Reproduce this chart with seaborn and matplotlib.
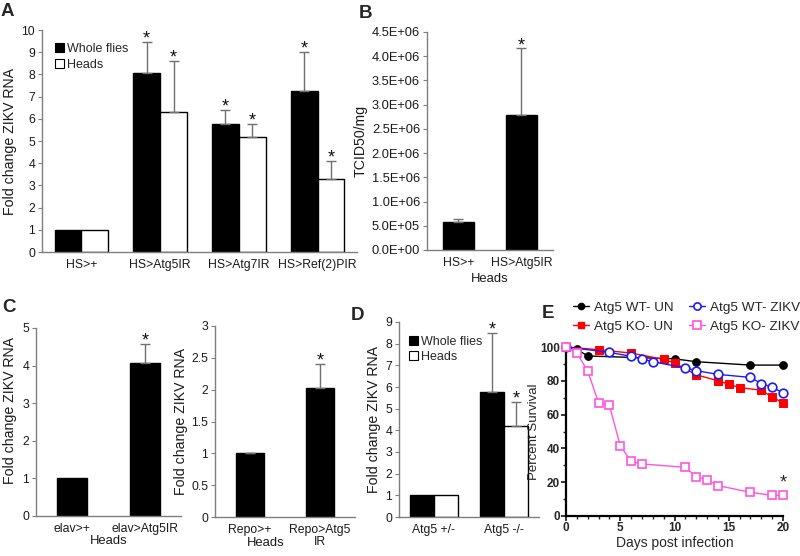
import numpy as np
import pandas as pd
import matplotlib
matplotlib.use("Agg")
import matplotlib.pyplot as plt
import seaborn as sns
from matplotlib.patches import Patch
from matplotlib.lines import Line2D
from matplotlib.ticker import FuncFormatter, MultipleLocator

# ---------------- data ----------------
A_groups = ["HS>+", "HS>Atg5IR", "HS>Atg7IR", "HS>Ref(2)PIR"]
A_whole = [1.0, 8.08, 5.76, 7.26]
A_whole_err = [0.0, 1.39, 0.63, 1.76]
A_heads = [1.0, 6.32, 5.19, 3.28]
A_heads_err = [0.0, 2.28, 0.57, 0.81]
A_star_whole = [False, True, True, True]
A_star_heads = [False, True, True, True]

B_groups = ["HS>+", "HS>Atg5IR"]
B_vals = [5.8e5, 2.79e6]
B_err = [0.5e5, 1.37e6]
B_star = [False, True]

C1_groups = ["elav>+", "elav>Atg5IR"]
C1_vals = [1.0, 4.08]
C1_err = [0.0, 0.5]
C1_star = [False, True]

C2_groups = ["Repo>+", "Repo>Atg5\nIR"]
C2_vals = [1.0, 2.03]
C2_err = [0.005, 0.37]
C2_star = [False, True]

D_groups = ["Atg5 +/-", "Atg5 -/-"]
D_whole = [1.0, 5.76]
D_whole_err = [0.0, 2.72]
D_heads = [1.0, 4.19]
D_heads_err = [0.0, 1.11]
D_star_whole = [False, True]
D_star_heads = [False, True]

E_wt_un_day = [0, 1, 2, 10, 12, 17, 20]
E_wt_un_val = [100, 98.6, 94.7, 93.0, 91.3, 89.3, 89.3]
E_ko_un_day = [0, 3, 6, 9, 10, 12, 14, 15, 16, 18, 19, 20]
E_ko_un_val = [100, 98.4, 96.4, 92.7, 90.5, 83.6, 80.0, 78.0, 76.0, 74.4, 70.4, 66.9]
E_wt_zk_day = [0, 4, 6, 7, 8, 11, 12, 14, 17, 18, 19, 20]
E_wt_zk_val = [100, 96.8, 94.5, 92.9, 91.3, 87.6, 86.0, 83.8, 82.0, 78.3, 76.3, 72.8]
E_ko_zk_day = [0, 1, 2, 3, 4, 5, 6, 7, 11, 12, 13, 14, 17, 19, 20]
E_ko_zk_val = [100, 96.4, 85.8, 67.0, 65.5, 41.6, 32.3, 30.8, 28.8, 23.3, 21.5, 18.0, 14.0, 12.2, 12.2]

# ---------------- style ----------------
sns.set_theme(style="ticks")
plt.rcParams['font.family'] = ['Liberation Sans', 'DejaVu Sans']
plt.rcParams['axes.linewidth'] = 1.0

W, H = 800, 556
fig = plt.figure(figsize=(8, 5.56), dpi=100)

def px_axes(l, r, t, b):
    return fig.add_axes([l / W, 1 - b / H, (r - l) / W, (b - t) / H])

SPINE = "#7f7f7f"
ERRC = "#707070"
TFS = 8.8
TXT = "#1a1a1a"
YLFS = 10.2

def style_bar_axes(ax):
    for s in ["top", "right"]:
        ax.spines[s].set_visible(False)
    for s in ["left", "bottom"]:
        ax.spines[s].set_color(SPINE)
        ax.spines[s].set_linewidth(1.0)
    ax.tick_params(axis="y", direction="out", length=3, width=0.8, color=SPINE,
                   labelsize=TFS, pad=2, labelcolor=TXT)
    ax.tick_params(axis="x", length=0, labelsize=TFS, pad=5, labelcolor=TXT)
    ax.set_xlabel("")
    ax.set_ylabel("")

def add_err(ax, errs, stars, starsize=13):
    patches = sorted(ax.patches, key=lambda p: p.get_x())
    for p, e, s in zip(patches, errs, stars):
        x = p.get_x() + p.get_width() / 2
        h = p.get_height()
        if e > 0:
            ax.errorbar([x], [h], yerr=[[0], [e]], fmt="none", ecolor=ERRC,
                        elinewidth=1.0, capsize=3.5, capthick=1.0, zorder=3)
        if s:
            ax.annotate("*", (x, h + e), xytext=(0, -4), textcoords="offset points",
                        ha="center", va="bottom", fontsize=starsize, color="#111111")

def grouped_df(groups, whole, heads):
    return pd.DataFrame({
        "group": groups * 2,
        "value": list(whole) + list(heads),
        "type": ["Whole flies"] * len(groups) + ["Heads"] * len(groups),
    })

pal = {"Whole flies": "black", "Heads": "white"}

def interleave(a, b):
    out = []
    for x, y in zip(a, b):
        out += [x, y]
    return out

leg_handles = [Patch(facecolor="black", edgecolor="black", linewidth=0.8),
               Patch(facecolor="white", edgecolor="black", linewidth=0.8)]

# ---------------- Panel A ----------------
axA = px_axes(42, 357, 30, 252)
dfA = grouped_df(A_groups, A_whole, A_heads)
sns.barplot(data=dfA, x="group", y="value", hue="type", palette=pal, width=0.68,
            edgecolor="black", linewidth=1.0, errorbar=None, legend=False, ax=axA, zorder=2)
axA.set_ylim(0, 10)
axA.set_yticks(range(0, 11))
axA.set_xlim(-0.5, 3.5)
style_bar_axes(axA)
add_err(axA, interleave(A_whole_err, A_heads_err), interleave(A_star_whole, A_star_heads))
axA.set_ylabel("Fold change ZIKV RNA", fontsize=YLFS, labelpad=3, color=TXT)
axA.legend(leg_handles, ["Whole flies", "Heads"], loc="upper left", bbox_to_anchor=(0.025, 0.965),
           frameon=False, fontsize=9, handlelength=0.75, handleheight=0.75,
           handletextpad=0.25, labelspacing=0.3, borderaxespad=0)

# ---------------- Panel B ----------------
axB = px_axes(427, 553, 32, 250)
dfB = pd.DataFrame({"group": B_groups, "value": B_vals})
sns.barplot(data=dfB, x="group", y="value", color="black", width=0.5,
            edgecolor="black", errorbar=None, ax=axB, zorder=2)
axB.set_ylim(0, 4.5e6)
axB.set_yticks(np.arange(0, 4.51e6, 5e5))
axB.yaxis.set_major_formatter(FuncFormatter(lambda v, p: f"{v:.1E}"))
axB.set_xlim(-0.5, 1.5)
style_bar_axes(axB)
axB.tick_params(axis="y", labelsize=9.3)
add_err(axB, B_err, B_star)
axB.set_ylabel("TCID50/mg", fontsize=YLFS, labelpad=3, color=TXT)
axB.set_xlabel("Heads", fontsize=TFS + 0.6, labelpad=3, color=TXT)

# ---------------- Panel C (left) ----------------
axC1 = px_axes(36, 181, 328, 516)
dfC1 = pd.DataFrame({"group": C1_groups, "value": C1_vals})
sns.barplot(data=dfC1, x="group", y="value", color="black", width=0.41,
            edgecolor="black", errorbar=None, ax=axC1, zorder=2)
axC1.set_ylim(0, 5)
axC1.set_yticks(range(0, 6))
axC1.set_xlim(-0.5, 1.5)
style_bar_axes(axC1)
add_err(axC1, C1_err, C1_star)
axC1.set_ylabel("Fold change ZIKV RNA", fontsize=YLFS, labelpad=5, color=TXT)
axC1.yaxis.set_label_coords(-0.13, 0.56)
axC1.set_xlabel("Heads", fontsize=TFS + 0.6, labelpad=0, color=TXT)

# ---------------- Panel C (right) ----------------
axC2 = px_axes(215, 355, 326, 517)
dfC2 = pd.DataFrame({"group": C2_groups, "value": C2_vals})
sns.barplot(data=dfC2, x="group", y="value", color="black", width=0.41,
            edgecolor="black", errorbar=None, ax=axC2, zorder=2)
axC2.set_ylim(0, 3)
axC2.set_yticks([0, 0.5, 1, 1.5, 2, 2.5, 3])
axC2.set_yticklabels(["0", "0.5", "1", "1.5", "2", "2.5", "3"])
axC2.set_xlim(-0.5, 1.5)
style_bar_axes(axC2)
add_err(axC2, C2_err, C2_star)
axC2.set_ylabel("Fold change ZIKV RNA", fontsize=YLFS, color=TXT)
axC2.yaxis.set_label_coords(-0.19, 0.5)
axC2.set_xlabel("Heads", fontsize=TFS + 0.6, color=TXT)
axC2.xaxis.set_label_coords(0.36, -0.105)
for lbl in axC2.get_xticklabels():
    lbl.set_linespacing(1.0)

# ---------------- Panel D ----------------
axD = px_axes(399, 539, 322, 517)
dfD = grouped_df(D_groups, D_whole, D_heads)
sns.barplot(data=dfD, x="group", y="value", hue="type", palette=pal, width=0.686,
            edgecolor="black", linewidth=1.0, errorbar=None, legend=False, ax=axD, zorder=2)
axD.set_ylim(0, 9)
axD.set_yticks(range(0, 10))
axD.set_xlim(-0.5, 1.5)
style_bar_axes(axD)
add_err(axD, interleave(D_whole_err, D_heads_err), interleave(D_star_whole, D_star_heads))
axD.set_ylabel("Fold change ZIKV RNA", fontsize=YLFS, labelpad=3, color=TXT)
axD.legend(leg_handles, ["Whole flies", "Heads"], loc="upper left", bbox_to_anchor=(0.035, 0.955),
           frameon=False, fontsize=9, handlelength=0.75, handleheight=0.75,
           handletextpad=0.25, labelspacing=0.25, borderaxespad=0)

# ---------------- Panel E ----------------
axE = px_axes(566, 783, 347, 516)
series = [
    (E_wt_un_day, E_wt_un_val, "Atg5 WT- UN", dict(color="black", marker="o",
                                                    mfc="black", mec="black"), 5.5),
    (E_ko_un_day, E_ko_un_val, "Atg5 KO- UN", dict(color="#ff0000", marker="s",
                                                    mfc="#ff0000", mec="#ff0000"), 5.5),
    (E_wt_zk_day, E_wt_zk_val, "Atg5 WT- ZIKV", dict(color="#1a1aff", marker="o",
                                                      mfc="white", mec="#1a1aff", mew=1.2), 6.2),
    (E_ko_zk_day, E_ko_zk_val, "Atg5 KO- ZIKV", dict(color="#ff55dd", marker="s",
                                                      mfc="white", mec="#ff55dd", mew=1.2), 6.3),
]
handles = []
for d, v, lab, kw, ms in series:
    sns.lineplot(x=d, y=v, ax=axE, linewidth=1.0, clip_on=False, zorder=3, ms=ms, **kw)
    handles.append(Line2D([], [], linewidth=1.0, ms=ms - 1.0, **kw))
axE.set_xlim(0, 20)
axE.set_ylim(0, 100)
axE.xaxis.set_major_locator(MultipleLocator(5))
axE.xaxis.set_minor_locator(MultipleLocator(1))
axE.yaxis.set_major_locator(MultipleLocator(20))
axE.yaxis.set_minor_locator(MultipleLocator(10))
for s in ["top", "right"]:
    axE.spines[s].set_visible(False)
for s in ["left", "bottom"]:
    axE.spines[s].set_color("black")
    axE.spines[s].set_linewidth(1.6)
axE.tick_params(which="major", length=3.5, width=1.3, labelsize=8.5, pad=1)
axE.tick_params(which="minor", length=2.5, width=1.0)
for lbl in axE.get_xticklabels() + axE.get_yticklabels():
    lbl.set_fontweight("bold")
axE.set_xlabel("Days post infection", fontsize=10, labelpad=1)
axE.set_ylabel("Percent Survival", fontsize=9.5, labelpad=0)
axE.annotate("*", (20, 12.2), xytext=(0, 3), textcoords="offset points",
             ha="center", va="bottom", fontsize=13)
fig.legend(handles, [s[2] for s in series], ncol=2, loc="upper left",
           bbox_to_anchor=(568 / W, 1 - 296 / H), frameon=False, fontsize=9.7,
           handlelength=1.15, columnspacing=1.15, handletextpad=0.4, labelspacing=0.5,
           borderaxespad=0)

# ---------------- panel letters ----------------
for letter, x, y in [("A", 7, 12), ("B", 366, 13), ("C", 9, 307), ("D", 358, 316), ("E", 548, 313)]:
    fig.text(x / W, 1 - y / H, letter, fontsize=13.5, fontweight="bold", ha="center", va="center")

fig.savefig("out.png", dpi=100)
